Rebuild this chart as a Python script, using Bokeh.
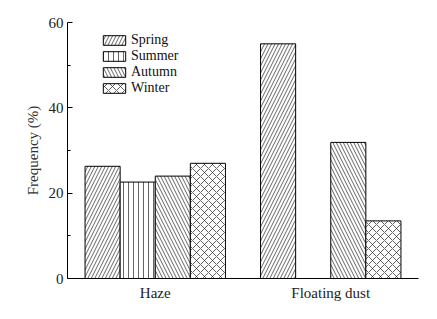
from bokeh.plotting import figure
from bokeh.models import ColumnDataSource, FixedTicker, Legend, LegendItem
from bokeh.transform import dodge
from bokeh.embed import file_html
from bokeh.resources import INLINE

categories = ["Haze", "Floating dust"]
seasons = ["Spring", "Summer", "Autumn", "Winter"]
spring = [26.3, 55.0]
summer = [22.6, None]
autumn = [24.0, 31.9]
winter = [27.0, 13.5]
y_ticks = [0, 20, 40, 60]
y_minor = [10, 30, 50]

series = [spring, summer, autumn, winter]
hatches = ["/", "|", "\\", "x"]
offsets = [-0.3, -0.1, 0.1, 0.3]
scales = [7, 5, 7, 8]

FONT = "Liberation Serif"

p = figure(x_range=categories, y_range=(0, 60), width=421, height=303,
           output_backend="svg", toolbar_location=None,
           min_border_left=67, min_border_right=3, min_border_top=22, min_border_bottom=23)

items = []
for name, vals, h, off, sc in zip(seasons, series, hatches, offsets, scales):
    xs = [c for c, v in zip(categories, vals) if v is not None]
    ys = [v for v in vals if v is not None]
    src = ColumnDataSource(dict(cat=xs, val=ys))
    r = p.vbar(x=dodge("cat", off, range=p.x_range), top="val", width=0.2, source=src,
               fill_color="white", line_color="black", line_width=1,
               hatch_pattern=h, hatch_color="#222", hatch_weight=0.7,
               hatch_scale=sc)
    items.append(LegendItem(label=name, renderers=[r]))

legend = Legend(items=items, location=(33, 182), border_line_color=None,
                background_fill_alpha=0, padding=0, margin=0, spacing=0,
                glyph_width=28, glyph_height=12, label_height=12, label_standoff=3,
                label_text_font=FONT, label_text_font_size="14px", label_text_color="#111")
p.add_layout(legend)

p.xgrid.grid_line_color = None
p.ygrid.grid_line_color = None
p.outline_line_color = None
p.x_range.range_padding = 0

p.yaxis.ticker = FixedTicker(ticks=y_ticks, minor_ticks=y_minor)
p.yaxis.major_tick_in = 5
p.yaxis.major_tick_out = 0
p.yaxis.minor_tick_in = 3
p.yaxis.minor_tick_out = 0
p.yaxis.major_label_standoff = 4
p.yaxis.axis_label = "Frequency (%)"
p.yaxis.axis_label_text_font = FONT
p.yaxis.axis_label_text_font_style = "normal"
p.yaxis.axis_label_text_font_size = "15px"
p.yaxis.axis_label_text_color = "#333"
p.yaxis.axis_label_standoff = 5

p.xaxis.major_tick_in = 0
p.xaxis.major_tick_out = 0
p.xaxis.minor_tick_line_color = None
p.xaxis.major_label_standoff = 6

for ax in (p.xaxis, p.yaxis):
    ax.axis_line_color = "black"
    ax.major_tick_line_color = "black"
    ax.major_label_text_font = FONT
    ax.major_label_text_font_size = "15px"
    ax.major_label_text_color = "#222"

open("out.html", "w").write(file_html(p, INLINE))
